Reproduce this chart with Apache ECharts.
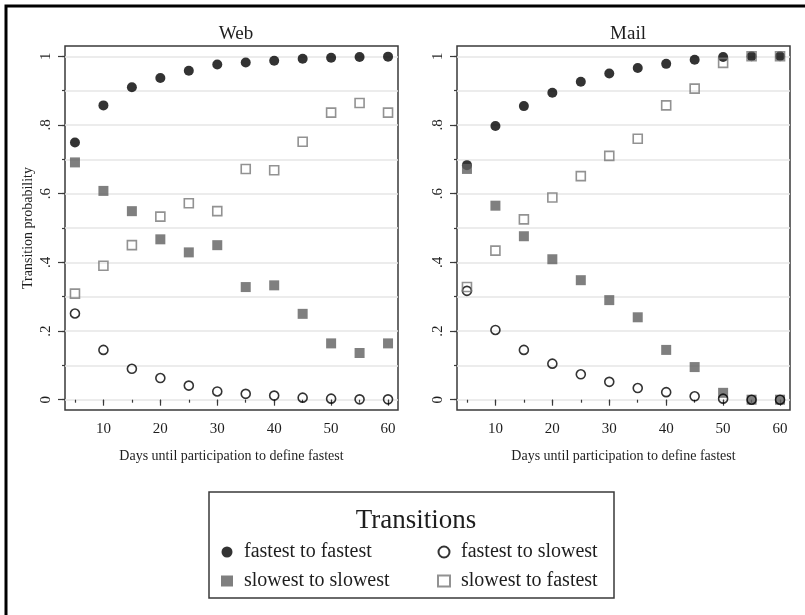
<!DOCTYPE html>
<html>
<head>
<meta charset="utf-8">
<script src="https://cdn.jsdelivr.net/npm/echarts@6/dist/echarts.min.js"></script>
<style>
  html, body { margin: 0; padding: 0; background: #fff; }
  #chart { width: 805px; height: 615px; }
</style>
</head>
<body>
<div id="chart"></div>
<script>
var days = [5, 10, 15, 20, 25, 30, 35, 40, 45, 50, 55, 60]

// Web panel
var webFF = [0.749, 0.857, 0.910, 0.937, 0.958, 0.976, 0.982, 0.987, 0.993, 0.996, 0.998, 0.999]
var webFS = [0.251, 0.145, 0.090, 0.063, 0.041, 0.024, 0.017, 0.012, 0.006, 0.003, 0.001, 0.001]
var webSS = [0.691, 0.608, 0.549, 0.467, 0.429, 0.450, 0.328, 0.333, 0.250, 0.164, 0.136, 0.164]
var webSF = [0.309, 0.390, 0.450, 0.533, 0.572, 0.549, 0.672, 0.668, 0.751, 0.836, 0.864, 0.836]

// Mail panel
var mailFF = [0.683, 0.797, 0.855, 0.894, 0.926, 0.950, 0.966, 0.978, 0.990, 0.998, 1.000, 1.000]
var mailFS = [0.317, 0.203, 0.145, 0.105, 0.074, 0.052, 0.034, 0.022, 0.010, 0.003, 0.000, 0.000]
var mailSS = [0.672, 0.565, 0.476, 0.409, 0.348, 0.290, 0.240, 0.145, 0.095, 0.020, 0.000, 0.000]
var mailSF = [0.328, 0.434, 0.525, 0.589, 0.651, 0.710, 0.760, 0.857, 0.906, 0.981, 1.000, 1.000]

var xMajorTicks = [10, 20, 30, 40, 50, 60]
var xMinorTicks = [5, 10, 15, 20, 25, 30, 35, 40, 45, 50, 55, 60]
var yMajorTicks = [0, 0.2, 0.4, 0.6, 0.8, 1]
var yMinorTicks = [0, 0.1, 0.2, 0.3, 0.4, 0.5, 0.6, 0.7, 0.8, 0.9, 1]

var panelTitles = ['Web', 'Mail']
var seriesNames = ['fastest to fastest', 'slowest to slowest', 'fastest to slowest', 'slowest to fastest']
var xTitle = 'Days until participation to define fastest'
var yTitle = 'Transition probability'

var FONT = 'Liberation Serif'
var INK = '#1e1e1e'
var FRAME = '#3a3a3a'

function pairs(ys) {
  return days.map(function (d, i) { return [d, ys[i]] })
}

function yLabel(v) {
  if (v === 0) return '0'
  if (v === 1) return '1'
  return v.toFixed(1).replace('0.', '.')
}

var chart = echarts.init(document.getElementById('chart'))

var gridLefts = [65, 457]
var grids = gridLefts.map(function (l) {
  return { left: l, top: 46, width: 333, height: 364, show: true, borderColor: FRAME, borderWidth: 1.5, backgroundColor: 'transparent' }
})

var xAxes = []
var yAxes = []
gridLefts.forEach(function (l, g) {
  xAxes.push({
    type: 'value', gridIndex: g, min: 3.25, max: 61.75, position: 'bottom',
    name: xTitle, nameLocation: 'middle', nameGap: 39,
    nameTextStyle: { fontFamily: FONT, fontSize: 14, color: INK },
    axisLine: { show: false },
    axisTick: { show: true, length: 6, lineStyle: { color: FRAME, width: 1.2 }, customValues: xMajorTicks },
    axisLabel: { show: true, margin: 12, fontFamily: FONT, fontSize: 15, color: INK, customValues: xMajorTicks },
    splitLine: { show: false }
  })
  xAxes.push({
    type: 'value', gridIndex: g, min: 3.25, max: 61.75, position: 'bottom',
    axisLine: { show: false },
    axisTick: { show: true, length: 3, lineStyle: { color: FRAME, width: 1.2 }, customValues: xMinorTicks },
    axisLabel: { show: false },
    splitLine: { show: false }
  })
  yAxes.push({
    type: 'value', gridIndex: g, min: -0.03, max: 1.03, position: 'left',
    name: g === 0 ? yTitle : '', nameLocation: 'middle', nameGap: 30,
    nameTextStyle: { fontFamily: FONT, fontSize: 14, color: INK },
    axisLine: { show: false },
    axisTick: { show: true, length: 7, lineStyle: { color: FRAME, width: 1.2 }, customValues: yMajorTicks },
    axisLabel: { show: true, rotate: 90, margin: 11, fontFamily: FONT, fontSize: 15, color: INK, customValues: yMajorTicks, formatter: yLabel },
    splitLine: { show: false }
  })
  yAxes.push({
    type: 'value', gridIndex: g, min: -0.03, max: 1.03, position: 'left',
    axisLine: { show: false },
    axisTick: { show: true, length: 3, lineStyle: { color: FRAME, width: 1.2 }, customValues: yMinorTicks },
    axisLabel: { show: false },
    splitLine: { show: true, lineStyle: { color: '#e6e6e6', width: 1.5 } }
  })
})

var markerStyles = [
  { symbol: 'circle', symbolSize: 10, itemStyle: { color: '#000' } },
  { symbol: 'rect', symbolSize: 10, itemStyle: { color: '#5f5f5f' } },
  { symbol: 'circle', symbolSize: 9, itemStyle: { color: 'transparent', borderColor: '#000', borderWidth: 1.6 } },
  { symbol: 'rect', symbolSize: 9, itemStyle: { color: 'transparent', borderColor: '#777', borderWidth: 1.6 } }
]

var panelData = [
  [webFF, webSS, webFS, webSF],
  [mailFF, mailSS, mailFS, mailSF]
]

var series = []
panelData.forEach(function (sets, g) {
  sets.forEach(function (ys, k) {
    var st = markerStyles[k]
    series.push({
      name: seriesNames[k],
      type: 'scatter',
      xAxisIndex: g * 2,
      yAxisIndex: g * 2,
      symbol: st.symbol,
      symbolSize: st.symbolSize,
      itemStyle: st.itemStyle,
      emphasis: { disabled: true },
      data: pairs(ys)
    })
  })
})

var legendText = { fontFamily: FONT, fontSize: 20, color: INK, padding: [0, 0, 0, 6] }

var option = {
  animation: false,
  backgroundColor: '#fff',
  title: [
    { text: panelTitles[0], left: 231, top: 20, textAlign: 'center', textStyle: { fontFamily: FONT, fontSize: 19, fontWeight: 'normal', color: INK } },
    { text: panelTitles[1], left: 623, top: 20, textAlign: 'center', textStyle: { fontFamily: FONT, fontSize: 19, fontWeight: 'normal', color: INK } },
    { text: 'Transitions', left: 411, top: 502, textAlign: 'center', textStyle: { fontFamily: FONT, fontSize: 27, fontWeight: 'normal', color: INK } }
  ],
  grid: grids,
  xAxis: xAxes,
  yAxis: yAxes,
  legend: [
    { orient: 'vertical', left: 216, top: 537, itemWidth: 12, itemHeight: 11, itemGap: 9, textStyle: legendText,
      data: [seriesNames[0], seriesNames[1]], selectedMode: false },
    { orient: 'vertical', left: 432, top: 537, itemWidth: 12, itemHeight: 11, itemGap: 9, textStyle: legendText,
      data: [seriesNames[2], seriesNames[3]], selectedMode: false }
  ],
  graphic: [
    { type: 'polyline', silent: true, shape: { points: [[6, 615], [6, 6], [805, 6]] }, style: { stroke: '#000', lineWidth: 3, fill: null } },
    { type: 'rect', silent: true, shape: { x: 209, y: 492, width: 405, height: 106 }, style: { stroke: FRAME, lineWidth: 1.5, fill: null } }
  ],
  series: series
}

chart.setOption(option)
</script>
</body>
</html>
